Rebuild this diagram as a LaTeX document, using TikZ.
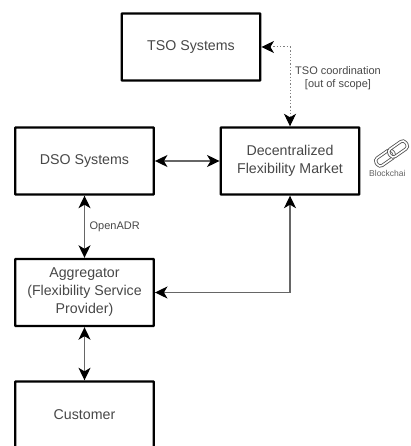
\documentclass[tikz,border=0pt]{standalone}
\usepackage{fontspec}
\setsansfont{Liberation Sans}
\usetikzlibrary{arrows.meta}

\tikzset{
    sysbox/.style={shape=rectangle, draw=black, line width=2.4pt, rounded corners=0.6pt, minimum width=138.5pt, minimum height=67pt, align=center, inner sep=0pt, text=black!72, font=\sffamily\fontsize{14.2}{18}\selectfont},
    link/.style={draw=black!60, line width=1.3pt, ->, >={Stealth[length=12.5pt, width=12pt, inset=3.5pt, color=black]}},
    smalltext/.style={inner sep=0pt, align=center, text=black!72, font=\sffamily\fontsize{11}{12.5}\selectfont},
    chainlink/.style={shape=rectangle, draw=black!70, line width=0.8pt, double=white, double distance=1.6pt, rounded corners=3.5pt, minimum width=20pt, minimum height=9pt, rotate=35, inner sep=0pt}
}

\begin{document}
\begin{tikzpicture}[x=1pt, y=-1pt]
    \clip (0,0) rectangle (410,446);
    \node[sysbox] at (191,47) (TSO) {TSO Systems};
    \node[sysbox] at (84.5,161) (DSO) {DSO Systems};
    \node[sysbox] at (290,161) (DFM) {Decentralized\\Flexibility Market};
    \node[sysbox] at (84.5,292.5) (AGG) {Aggregator\\(Flexibility Service\\Provider)};
    \node[sysbox] at (84.5,415) (CUST) {Customer};
    \node[chainlink] at (385,158) (L0) {};
    \node[chainlink] at (398,149) (L1) {};
    \node[smalltext, text=black!62, font=\sffamily\fontsize{8.5}{10}\selectfont, anchor=west] at (369,173) (CHAIN) {Blockchai};
    \path [link, <->] (DSO) -- (DFM);
    \path [link, <->] (DSO) -- node[smalltext, right=4.5pt] {OpenADR} (AGG);
    \path [link, <->] (AGG) -- (CUST);
    \path [link, <->] (AGG.east) -| (DFM.south);
    \path [link, <->, dotted, line width=1pt, draw=black!50] (TSO.east) -| (DFM.north);
    \node[smalltext] at (338,78) (SCOPE) {TSO coordination\\{[out of scope]}};
    \end{tikzpicture}
\end{document}
